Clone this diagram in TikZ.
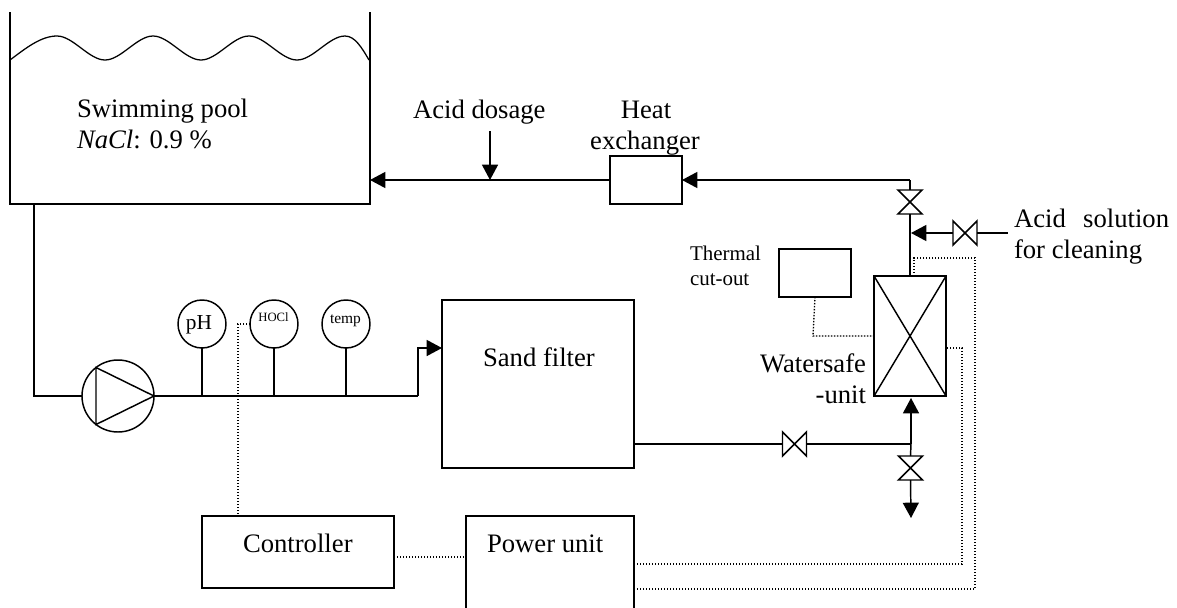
\documentclass[tikz,border=0pt]{standalone}
\usepackage{fontspec}
\setmainfont{Liberation Serif}
\usetikzlibrary{arrows.meta,fit,calc}
\tikzset{
  pipe/.style={line width=1.1pt},
  flow/.style={line width=1.1pt,-{Triangle[length=11.5pt,width=12pt]}},
  sig/.style={line width=1pt,dash pattern=on 1.05pt off 1.2pt},
  unitbox/.style={draw,line width=1.1pt,inner sep=0pt,outer sep=0pt},
  ghost/.style={inner sep=0pt,outer sep=0pt},
  sensor/.style={draw,circle,line width=1.1pt,minimum size=36pt,inner sep=0pt,outer sep=0pt},
  valvenode/.style={ghost,minimum size=18pt},
  lab/.style={inner sep=0pt,outer sep=0pt,anchor=base west,font=\fontsize{20}{24}\selectfont},
  labc/.style={lab,anchor=base},
  small/.style={inner sep=0pt,outer sep=0pt,anchor=base west,font=\fontsize{15.7}{18}\selectfont},
}
\begin{document}
\begin{tikzpicture}[x=0.75pt,y=-0.75pt]
\useasboundingbox (0,0) rectangle (1177,607);
% pool
\coordinate (poolTL) at (10,12);
\coordinate (poolTR) at (370,12);
\node[ghost,fit={(10,60)(370,204)}] (pool) {};
\draw[pipe,line join=miter] (poolTL) -- (pool.south west) -- (pool.south east) -- (poolTR);
\draw[line width=0.95pt] (10,60)
  .. controls (26,48) and (41,36) .. (57,36)
  .. controls (73,36) and (89,60) .. (105,60)
  .. controls (121,60) and (137,36) .. (153,36)
  .. controls (169,36) and (185,60) .. (201,60)
  .. controls (217,60) and (233,36) .. (249,36)
  .. controls (265,36) and (281,60) .. (297,60)
  .. controls (313,60) and (329,36) .. (345,36)
  .. controls (355,36) and (362,48) .. (369,60);
\node[lab] (poolname) at (77,117) {Swimming pool};
\node[lab] (poolsalt) at (77,148) {\textit{NaCl}: 0.9 \%};
% pump and sensors
\node[draw,circle,line width=1.1pt,minimum size=54pt,inner sep=0pt,outer sep=0pt] (pump) at (118,396) {};
\draw[pipe,line join=miter] (96,367.5) -- (96,424.5) -- (pump.east) -- cycle;
\node[sensor] (ph) at (202,324) {};
\node[sensor] (hocl) at (274,324) {};
\node[sensor] (temp) at (346,324) {};
\node[ghost,anchor=base,font=\fontsize{16}{18}\selectfont] (phtxt) at (199,329) {pH};
\node[ghost,anchor=base,font=\fontsize{9.5}{11}\selectfont] (hocltxt) at (273.5,321.5) {HOCl};
\node[ghost,anchor=base,font=\fontsize{11.6}{13}\selectfont] (temptxt) at (345.5,323) {temp};
% filter etc
\node[unitbox,fit={(442,300)(634,468)}] (sand) {};
\node[lab] (sandtxt) at (483,366) {Sand filter};
\node[unitbox,fit={(202,516)(394,588)}] (ctrl) {};
\node[lab] (ctrltxt) at (243,552) {Controller};
\node[unitbox,fit={(466,516)(634,616)}] (power) {};
\node[lab] (powertxt) at (487,552) {Power unit};
\node[unitbox,fit={(610,156)(682,204)}] (hx) {};
\node[labc] (hxa) at (646,118) {Heat};
\node[labc] (hxb) at (645,149) {exchanger};
\node[unitbox,fit={(779,249)(851,297)}] (therm) {};
\node[small] (tha) at (690,260) {Thermal};
\node[small] (thb) at (690,285) {cut-out};
\node[unitbox,fit={(874,276)(946,396)}] (ws) {};
\draw[pipe] (ws.north west) -- (ws.south east) (ws.north east) -- (ws.south west);
\node[lab,anchor=base east] (wsa) at (866,372) {Watersafe};
\node[lab,anchor=base east] (wsb) at (866,403) {-unit};
% valves
\node[valvenode] (vtop) at (910,202) {};
\node[valvenode] (vacid) at (965,233) {};
\node[valvenode] (vsand) at (794.5,444) {};
\node[valvenode] (vdrain) at (910.5,468) {};
\foreach \v in {vtop,vdrain}
  \draw[pipe,line join=miter] (\v.north west) -- (\v.north east) -- (\v.south west) -- (\v.south east) -- cycle;
\foreach \v in {vacid,vsand}
  \draw[pipe,line join=miter] (\v.north west) -- (\v.south west) -- (\v.north east) -- (\v.south east) -- cycle;
% pipes
\coordinate (poolout) at (34,204);
\coordinate (poolin) at (370,180);
\coordinate (dose) at (490,131);
\coordinate (doseend) at (490,180);
\coordinate (jtop) at (910,180);
\coordinate (jacid) at (911,233);
\coordinate (acidsrc) at (1008,233);
\coordinate (jlow) at (911,444);
\coordinate (drainend) at (911,518);
\coordinate (wsin) at (911,398);
\draw[pipe] (poolout) |- (pump.west);
\draw[pipe] (pump.east) -- (418,396) coordinate (pipebend);
\draw[flow] (pipebend) |- (sand.west |- 0,348);
\foreach \s in {ph,hocl,temp}
  \draw[pipe] (\s.south) -- (\s.south |- pump.east);
\draw[flow] (hx.west |- poolin) -- (poolin);
\draw[flow] (dose) -- (doseend);
\draw[flow] (jtop) -- (hx.east |- jtop);
\draw[pipe] (jtop) -- (vtop.north);
\draw[pipe] (vtop.south) -- (ws.north -| vtop);
\draw[flow] (vacid.west) -- (jacid);
\draw[pipe] (vacid.east) -- (acidsrc);
\draw[pipe] (sand.east |- jlow) -- (vsand.west);
\draw[pipe] (vsand.east) -- (jlow);
\draw[flow] (jlow) -- (wsin);
\draw[pipe] (jlow) -- (vdrain.north);
\draw[flow] (vdrain.south) -- (drainend);
% labels
\node[lab] (dosetxt) at (413,118) {Acid dosage};
\node[lab] (acida) at (1014,227) {Acid\hspace{0.4em} solution};
\node[lab] (acidb) at (1014,258) {for cleaning};
% signal lines
\draw[sig] (hocl.west) -- (238,324) coordinate (sa) -- (sa |- ctrl.north);
\draw[sig] ($(ctrl.east |- 0,557)+(3,0)$) -- (power.west |- 0,557);
\draw[sig] (therm.south) -- (813,336) coordinate (sb) -- (sb -| ws.west);
\draw[sig] ($(power.east |- 0,564)+(3,0)$) -- (962,564) -- (962,348) -- (ws.east |- 0,348);
\draw[sig] ($(power.east |- 0,589)+(3,0)$) -- (975,589) -- (975,258) -- (914,258) -- (914,276);
\end{tikzpicture}
\end{document}
